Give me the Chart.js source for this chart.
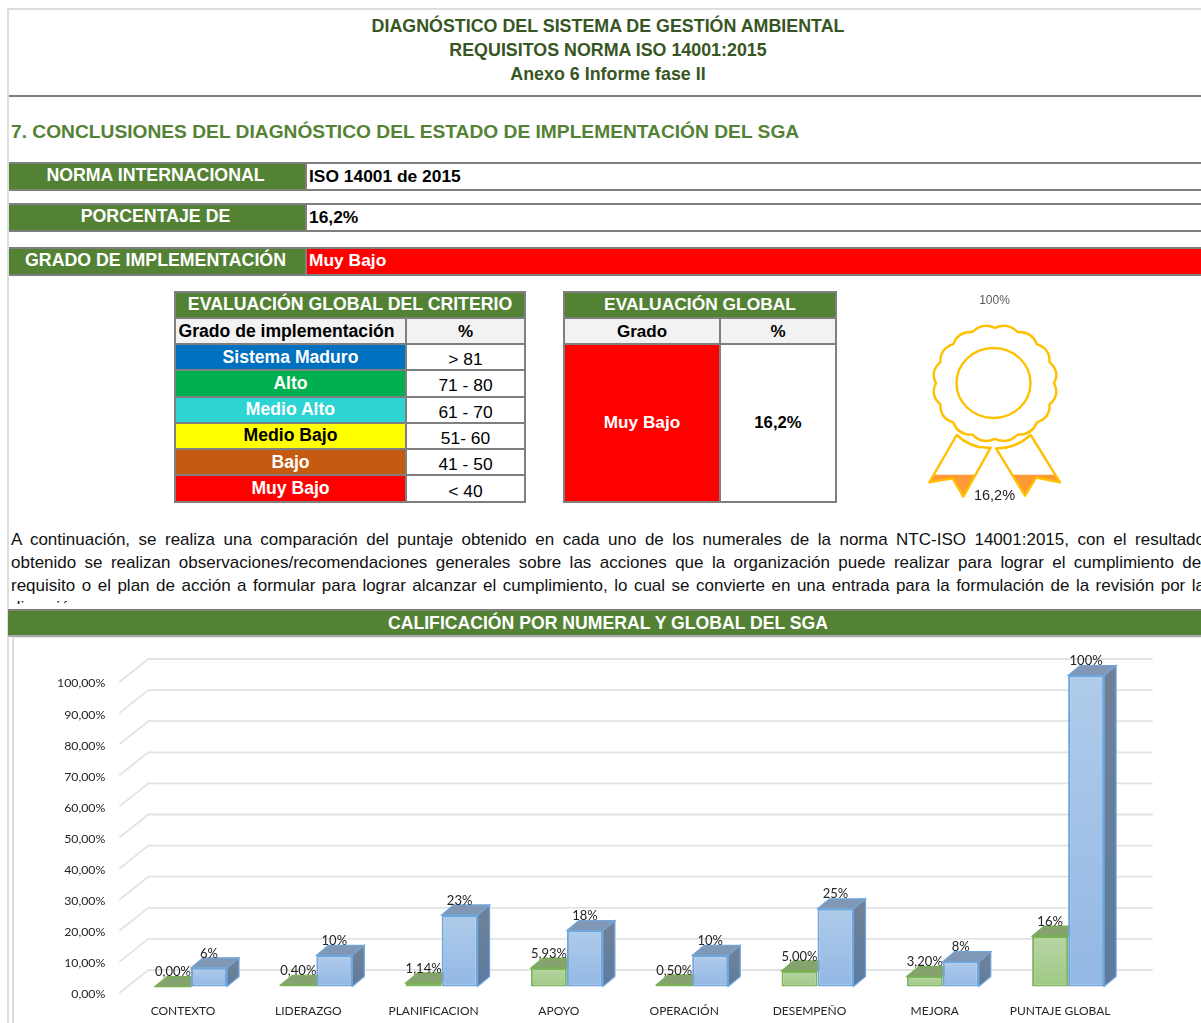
<!DOCTYPE html>
<html lang="es">
<head>
<meta charset="utf-8">
<title>Diagnóstico SGA</title>
<script src="https://cdn.jsdelivr.net/npm/chart.js@4/dist/chart.umd.min.js"></script>
<style>
html,body{margin:0;padding:0;background:#fff;width:1201px;height:1023px;overflow:hidden;font-family:"Liberation Sans",Arial,sans-serif}
#page{position:relative;width:1201px;height:1023px;overflow:hidden}
.abs{position:absolute;box-sizing:border-box;white-space:nowrap}
.cell{position:absolute;box-sizing:border-box;border:2px solid #7f7f7f;display:flex;align-items:center;justify-content:center;font-weight:bold;font-size:17.6px;white-space:nowrap;overflow:hidden}
.t{position:absolute;left:0;width:1216px;text-align:center;font-weight:bold;white-space:nowrap}
.p{position:absolute;left:11px;width:1194px;font-size:17px;line-height:23px;height:23px;color:#111;text-align:justify;text-align-last:justify;white-space:normal}
canvas{position:absolute}
</style>
</head>
<body>
<div id="page">
  <div class="abs" style="left:7px;top:8px;width:1194px;height:2px;background:#dedede"></div>
  <div class="abs" style="left:7px;top:8px;width:2px;height:1015px;background:#dedede"></div>
  <div class="abs" style="left:9px;top:95px;width:1192px;height:2px;background:#808080"></div>
  <div id="titles"></div>
  <div class="abs" style="left:11px;top:121px;font-size:19.2px;line-height:22px;font-weight:bold;color:#548235">7. CONCLUSIONES DEL DIAGNÓSTICO DEL ESTADO DE IMPLEMENTACIÓN DEL SGA</div>
  <div id="cells"></div>
  <div id="para"></div>
  <div class="abs" style="left:12px;top:637px;width:2px;height:386px;background:#dedede"></div>
  <div class="abs" style="left:12px;top:637px;width:1189px;height:1px;background:#e6e6e6"></div>
  <canvas id="bars" width="1187" height="385" style="left:14px;top:638px"></canvas>
  <canvas id="badge" width="140" height="225" style="left:925px;top:285px"></canvas>
</div>
<script>
const titleLines = ["DIAGNÓSTICO DEL SISTEMA DE GESTIÓN AMBIENTAL", "REQUISITOS NORMA ISO 14001:2015", "Anexo 6 Informe fase II"];
const summaryLabels = ["NORMA INTERNACIONAL", "PORCENTAJE DE", "GRADO DE IMPLEMENTACIÓN"];
const summaryValues = ["ISO 14001 de 2015", "16,2%", "Muy Bajo"];
const gradeNames = ["Sistema Maduro", "Alto", "Medio Alto", "Medio Bajo", "Bajo", "Muy Bajo"];
const gradeRanges = ["> 81", "71 - 80", "61 - 70", "51- 60", "41 - 50", "< 40"];
const gradeFills = ["#0070C0", "#00B050", "#2CD4D4", "#FFFF00", "#C55A11", "#FF0000"];
const paragraphLines = [
  "A continuación, se realiza una comparación del puntaje obtenido en cada uno de los numerales de la norma NTC-ISO 14001:2015, con el resultado",
  "obtenido se realizan observaciones/recomendaciones generales sobre las acciones que la organización puede realizar para lograr el cumplimiento del",
  "requisito o el plan de acción a formular para lograr alcanzar el cumplimiento, lo cual se convierte en una entrada para la formulación de la revisión por la"
];
const categories = ["CONTEXTO", "LIDERAZGO", "PLANIFICACION", "APOYO", "OPERACIÓN", "DESEMPEÑO", "MEJORA", "PUNTAJE GLOBAL"];
const obtained = [0, 0.4, 1.14, 5.93, 0.5, 5, 3.2, 16.2];
const expected = [6, 10, 23, 18, 10, 25, 8, 100];
const obtainedLabels = ["0,00%", "0,40%", "1,14%", "5,93%", "0,50%", "5,00%", "3,20%", "16%"];
const expectedLabels = ["6%", "10%", "23%", "18%", "10%", "25%", "8%", "100%"];
const badgeValue = 16.2;
const badgeLabel = "16,2%";
const badgeMaxLabel = "100%";

const GREEN = "#548235", GREY = "#F2F2F2";
function cell(parent, x1, y1, x2, y2, text, bg, color, extra) {
  const d = document.createElement("div");
  d.className = "cell";
  d.style.cssText = `left:${x1 - 1}px;top:${y1 - 1}px;width:${x2 - x1 + 2}px;height:${y2 - y1 + 2}px;background:${bg};color:${color};` + (extra || "");
  d.textContent = text;
  parent.appendChild(d);
  return d;
}
const titles = document.getElementById("titles");
titleLines.forEach((s, i) => {
  const d = document.createElement("div");
  d.className = "t";
  d.textContent = s;
  d.style.cssText = `top:${15 + i * 24}px;line-height:22px;font-size:17.85px;color:#375623`;
  titles.appendChild(d);
});
const cells = document.getElementById("cells");
const rowY = [[163, 190], [204, 231], [248, 275]];
summaryLabels.forEach((s, i) => {
  const [a, b] = rowY[i];
  cell(cells, 10, a, 306, b, s, GREEN, "#fff", "padding-bottom:3px;padding-right:3px;font-size:17.75px;border-left:0");
  cell(cells, 306, a, 1230, b, summaryValues[i], i === 2 ? "#FF0000" : "#fff", i === 2 ? "#fff" : "#000", "justify-content:flex-start;padding-left:2px;font-size:17.4px;" + (i === 2 ? "padding-bottom:2px" : ""));
});
const ys = [344, 370, 396.6, 422.7, 448.8, 475.3, 502];
cell(cells, 175, 292, 525, 318, "EVALUACIÓN GLOBAL DEL CRITERIO", GREEN, "#fff", "font-size:17.7px;padding-bottom:2px");
cell(cells, 175, 318, 406, 344, "Grado de implementación", GREY, "#000", "padding-right:8px;padding-top:1px");
cell(cells, 406, 318, 525, 344, "%", GREY, "#000", "padding-top:1px;font-size:17px");
gradeNames.forEach((g, i) => {
  cell(cells, 175, ys[i], 406, ys[i + 1], g, gradeFills[i], i === 3 ? "#000" : "#fff");
  cell(cells, 406, ys[i], 525, ys[i + 1], gradeRanges[i], "#fff", "#000", "font-weight:normal;padding-top:5px;font-size:17.4px");
});
cell(cells, 564, 292, 836, 318, "EVALUACIÓN GLOBAL", GREEN, "#fff", "font-size:17.4px;padding-bottom:2px");
cell(cells, 564, 318, 720, 344, "Grado", GREY, "#000", "padding-top:1px;font-size:17px");
cell(cells, 720, 318, 836, 344, "%", GREY, "#000", "padding-top:1px;font-size:17px");
cell(cells, 564, 344, 720, 502, summaryValues[2], "#FF0000", "#fff", "padding-bottom:2px;font-size:17.2px");
cell(cells, 720, 344, 836, 502, summaryValues[1], "#fff", "#000", "padding-bottom:1px;font-size:16.7px");
cell(cells, 9, 610, 1230, 636, "CALIFICACIÓN POR NUMERAL Y GLOBAL DEL SGA", GREEN, "#fff", "font-size:17.64px;justify-content:flex-start;padding-left:380px;border-left:0;border-right:0;border-bottom-color:#aaa");
const para = document.getElementById("para");
paragraphLines.forEach((s, i) => {
  const d = document.createElement("div");
  d.className = "p";
  d.style.top = (528 + i * 23) + "px";
  d.textContent = s;
  para.appendChild(d);
});
const clipLine = document.createElement("div");
clipLine.className = "abs";
clipLine.style.cssText = "left:11px;top:596px;height:8px;overflow:hidden;font-size:17px;line-height:23px;color:#111";
clipLine.textContent = "dirección.";
para.appendChild(clipLine);

Chart.defaults.animation = false;
const BAR_DX = 8, BAR_DY = -8, DEPTH_X = 12, DEPTH_Y = -10, GRID_DX = 29, GRID_DY = -23, GRID_LIFT = -1.5;
const CHART_FONT = '"Lato","Open Sans",sans-serif';

function faces(ctx, el, topFill, sideFill, edge, withSide) {
  const l = el.x - el.width / 2, r = el.x + el.width / 2, t = el.y, b = el.base;
  if (withSide) {
    const g = ctx.createLinearGradient(0, t, 0, b);
    g.addColorStop(0, sideFill[0]); g.addColorStop(1, sideFill[1]);
    ctx.beginPath();
    ctx.moveTo(r, t); ctx.lineTo(r + DEPTH_X, t + DEPTH_Y); ctx.lineTo(r + DEPTH_X, b + DEPTH_Y); ctx.lineTo(r, b); ctx.closePath();
    ctx.fillStyle = g; ctx.fill();
    ctx.strokeStyle = edge; ctx.lineWidth = 1.2; ctx.stroke();
  }
  ctx.beginPath();
  ctx.moveTo(l, t); ctx.lineTo(l + DEPTH_X, t + DEPTH_Y); ctx.lineTo(r + DEPTH_X, t + DEPTH_Y); ctx.lineTo(r, t); ctx.closePath();
  ctx.fillStyle = topFill; ctx.fill();
  ctx.strokeStyle = edge; ctx.lineWidth = 1.2; ctx.stroke();
}

const depthPlugin = {
  id: "depth",
  beforeDatasetsDraw(chart) {
    const { ctx, chartArea: a, scales: { y } } = chart;
    ctx.save();
    ctx.strokeStyle = "#e3e3e3";
    ctx.lineWidth = 1.8;
    y.ticks.forEach(tick => {
      const p = y.getPixelForValue(tick.value) + GRID_LIFT;
      ctx.beginPath();
      ctx.moveTo(a.left - 1, p);
      ctx.lineTo(a.left - 1 + GRID_DX, p + GRID_DY);
      ctx.lineTo(a.right + GRID_DX + 1, p + GRID_DY);
      ctx.stroke();
    });
    ctx.restore();
    ctx.save();
    ctx.translate(BAR_DX, BAR_DY);
    chart.getDatasetMeta(0).data.forEach(el => faces(ctx, el, "#86a36f", null, "#78b052", false));
  },
  afterDatasetsDraw(chart) {
    const ctx = chart.ctx;
    chart.getDatasetMeta(1).data.forEach(el => faces(ctx, el, "#8098b6", ["#6f8198", "#5b7b9f"], "#6fa6dc", true));
    chart.getDatasetMeta(0).data.forEach(el => {
      ctx.beginPath();
      ctx.moveTo(el.x - el.width / 2, el.y);
      ctx.lineTo(el.x + el.width / 2, el.y);
      ctx.strokeStyle = "#78b052"; ctx.lineWidth = 1.6; ctx.stroke();
    });
    ctx.restore();
    ctx.save();
    ctx.font = "13px " + CHART_FONT;
    ctx.fillStyle = "#222";
    ctx.textAlign = "center";
    ctx.textBaseline = "middle";
    [[0, obtainedLabels], [1, expectedLabels]].forEach(([i, labels]) => {
      chart.getDatasetMeta(i).data.forEach((el, k) => ctx.fillText(labels[k], el.x + BAR_DX, el.y + BAR_DY - 14.5));
    });
    ctx.restore();
  }
};

function barGradient(light, dark) {
  return c => {
    const ch = c.chart;
    if (!ch.chartArea || c.raw === undefined) return dark;
    const y = ch.scales.y;
    const t = y.getPixelForValue(c.raw), b = y.getPixelForValue(0);
    if (b - t < 1) return dark;
    const g = ch.ctx.createLinearGradient(0, t, 0, b);
    g.addColorStop(0, light); g.addColorStop(1, dark);
    return g;
  };
}

new Chart(document.getElementById("bars"), {
  type: "bar",
  data: {
    labels: categories,
    datasets: [
      { label: "Obtenido", data: obtained, clip: false, backgroundColor: barGradient("#b6d4a3", "#9fc985"), borderColor: "#7fb55e", borderWidth: 2, borderSkipped: false },
      { label: "Esperado", data: expected, clip: false, backgroundColor: barGradient("#afcbea", "#93b8e5"), borderColor: "#6fa6dc", borderWidth: 2, borderSkipped: false }
    ]
  },
  options: {
    responsive: false,
    layout: { padding: { top: 45.5, right: 78.25, left: 0, bottom: 0 } },
    plugins: { legend: { display: false }, tooltip: { enabled: false } },
    datasets: { bar: { categoryPercentage: 0.5746, barPercentage: 1 } },
    scales: {
      x: {
        grid: { display: false }, border: { display: false },
        afterFit: s => { s.height = 28.5; },
        ticks: { autoSkip: false, maxRotation: 0, padding: 1, color: "#262626", font: { family: CHART_FONT, size: 12 } }
      },
      y: {
        min: 0, max: 100,
        grid: { display: false }, border: { display: false },
        afterFit: s => { s.width = 106.35; },
        ticks: { stepSize: 10, padding: 7, color: "#262626", font: { family: CHART_FONT, size: 12.3 },
          callback: v => v.toFixed(2).replace(".", ",") + "%" }
      }
    }
  },
  plugins: [depthPlugin]
});

const STROKE = "#FFC000";
const leftRibbon = [[170, 450], [215, 492, 272, 488], [190, 635], [158, 580], [88, 592]];
const rightRibbon = [[392, 450], [345, 492, 288, 490], [375, 632], [408, 578], [480, 592]];
function ribbonPath(ctx, pts) {
  const X = v => v / 3 - 25, Y = v => v / 3;
  pts.forEach((p, i) => {
    if (i === 0) ctx.moveTo(X(p[0]), Y(p[1]));
    else if (p.length === 4) ctx.quadraticCurveTo(X(p[0]), Y(p[1]), X(p[2]), Y(p[3]));
    else ctx.lineTo(X(p[0]), Y(p[1]));
  });
  ctx.closePath();
}
const badgePlugin = {
  id: "badgeShape",
  beforeDatasetDraw(chart) {
    const ctx = chart.ctx;
    ctx.save();
    ctx.beginPath();
    ribbonPath(ctx, leftRibbon);
    ribbonPath(ctx, rightRibbon);
    ctx.clip();
  },
  afterDatasetDraw(chart) { chart.ctx.restore(); },
  afterDatasetsDraw(chart) {
    const ctx = chart.ctx;
    ctx.save();
    ctx.strokeStyle = STROKE;
    ctx.lineWidth = 2.4;
    ctx.lineJoin = "round";
    ctx.beginPath(); ribbonPath(ctx, leftRibbon); ctx.stroke();
    ctx.beginPath(); ribbonPath(ctx, rightRibbon); ctx.stroke();
    const cx = 70, cy = 98.3, n = 16;
    ctx.beginPath();
    for (let i = 0; i <= n; i++) {
      const a = (i / n) * 2 * Math.PI - Math.PI / 2;
      const px = cx + 59 * Math.cos(a), py = cy + 55.5 * Math.sin(a);
      if (i === 0) ctx.moveTo(px, py);
      else {
        const m = a - Math.PI / n;
        ctx.quadraticCurveTo(cx + 66.5 * Math.cos(m), cy + 62.5 * Math.sin(m), px, py);
      }
    }
    ctx.closePath();
    ctx.fillStyle = "#fff";
    ctx.fill();
    ctx.stroke();
    ctx.beginPath();
    ctx.ellipse(68.5, 98, 37, 35, 0, 0, 2 * Math.PI);
    ctx.stroke();
    ctx.textAlign = "center";
    ctx.textBaseline = "middle";
    ctx.font = '12px "Liberation Sans",Arial,sans-serif';
    ctx.fillStyle = "#595959";
    ctx.fillText(badgeMaxLabel, 69.5, 16);
    ctx.font = '14.5px "Liberation Sans",Arial,sans-serif';
    ctx.fillStyle = "#222";
    ctx.fillText(badgeLabel, 69.5, 211);
    ctx.restore();
  }
};
new Chart(document.getElementById("badge"), {
  type: "bar",
  data: { labels: ["Grado"], datasets: [{ data: [badgeValue], backgroundColor: "#FF9933", borderWidth: 0, barPercentage: 1, categoryPercentage: 1, clip: false }] },
  options: {
    responsive: false,
    layout: { padding: { top: 40, bottom: 6, left: 0, right: 0 } },
    plugins: { legend: { display: false }, tooltip: { enabled: false } },
    scales: { x: { display: false }, y: { display: false, min: 0, max: 100 } }
  },
  plugins: [badgePlugin]
});
</script>
</body>
</html>
